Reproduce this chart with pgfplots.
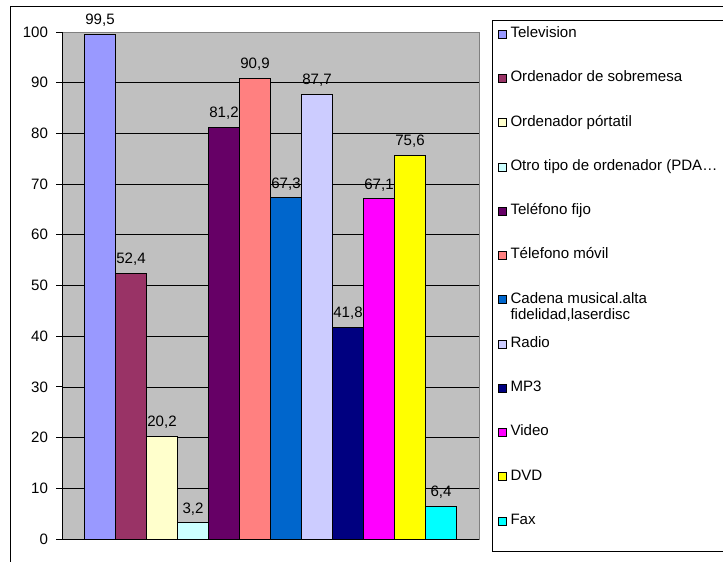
\documentclass[border=0pt]{standalone}
\usepackage{pgfplots}
\pgfplotsset{compat=1.18}
\usepackage{fontspec}
\setmainfont{Liberation Sans}

\definecolor{cTV}{HTML}{9999FF}
\definecolor{cSob}{HTML}{993366}
\definecolor{cPort}{HTML}{FFFFCC}
\definecolor{cOtro}{HTML}{CCFFFF}
\definecolor{cFijo}{HTML}{660066}
\definecolor{cMovil}{HTML}{FF8080}
\definecolor{cCad}{HTML}{0066CC}
\definecolor{cRadio}{HTML}{CCCCFF}
\definecolor{cMP}{HTML}{000080}
\definecolor{cVideo}{HTML}{FF00FF}
\definecolor{cDVD}{HTML}{FFFF00}
\definecolor{cFax}{HTML}{00FFFF}
\definecolor{plotbg}{HTML}{C0C0C0}

\newcommand\chartfont{\fontsize{11.3}{13}\selectfont}

\begin{document}
\begin{tikzpicture}
\useasboundingbox (0pt,0pt) rectangle (542.25pt,-420.75pt);
% outer chart frame
\draw[black, line width=0.75pt] (7.5pt,-600pt) -- (7.5pt,-4.5pt) -- (700pt,-4.5pt);
\begin{axis}[
  at={(46.5pt,-404.25pt)}, anchor=south west,
  scale only axis, width=312.75pt, height=380.25pt,
  font=\chartfont,
  /pgf/number format/assume math mode=true,
  ybar=0pt, bar width=23.25pt,
  xmin=-1, xmax=1, xtick=\empty,
  ymin=0, ymax=100,
  ytick={0,10,...,90},
  extra y ticks={100}, extra y tick style={grid=none},
  ymajorgrids, grid style={black, line width=0.6pt},
  axis lines=left, axis line style={-, black, line width=0.75pt},
  tick align=outside, major tick length=4.5pt,
  tick style={black, line width=0.75pt},
  yticklabel style={xshift=-2.5pt},
  axis background/.style={fill=plotbg, draw=gray, line width=0.75pt},
  every axis plot/.append style={draw=black, line width=0.6pt},
  nodes near coords,
  every node near coord/.append style={/pgf/number format/fixed, /pgf/number format/fixed zerofill,
    /pgf/number format/precision=1, /pgf/number format/use comma,
    /tikz/anchor=south, /tikz/inner sep=0pt, /tikz/text depth=0pt, /tikz/yshift=7pt,
    /tikz/black, /tikz/font=\chartfont},
  legend cell align=left,
  legend image code/.code={\draw[#1, draw=black, line width=0.5pt] (0pt,-3pt) rectangle (6pt,3pt);},
  legend style={at={(1.0312,1.0237)}, anchor=north west, draw=black, line width=0.75pt,
    fill=white, inner xsep=4pt, inner ysep=4pt, row sep=20.7pt,
    font=\chartfont,
    nodes={text height=7.3pt, text depth=2.2pt, inner sep=1.5pt, inner xsep=3pt}},
]
\addplot[fill=cTV] coordinates {(0,99.5)};
\addlegendentry{Television}
\addplot[fill=cSob] coordinates {(0,52.4)};
\addlegendentry{Ordenador de sobremesa}
\addplot[fill=cPort] coordinates {(0,20.2)};
\addlegendentry{Ordenador pórtatil}
\addplot[fill=cOtro] coordinates {(0,3.2)};
\addlegendentry{Otro tipo de ordenador (PDA…\hspace{20pt}}
\addplot[fill=cFijo] coordinates {(0,81.2)};
\addlegendentry{Teléfono fijo}
\addplot[fill=cMovil] coordinates {(0,90.9)};
\addlegendentry{Télefono móvil}
\addplot[fill=cCad] coordinates {(0,67.3)};
\addlegendentry{\smash{\begin{tabular}[t]{@{}l@{}}Cadena musical.alta\\[-0.5pt]fidelidad,laserdisc\end{tabular}}}
\addplot[fill=cRadio] coordinates {(0,87.7)};
\addlegendentry{Radio}
\addplot[fill=cMP] coordinates {(0,41.8)};
\addlegendentry{MP3}
\addplot[fill=cVideo] coordinates {(0,67.1)};
\addlegendentry{Video}
\addplot[fill=cDVD] coordinates {(0,75.6)};
\addlegendentry{DVD}
\addplot[fill=cFax] coordinates {(0,6.4)};
% the last entry carries extra depth so the legend box reaches further down
\addlegendentry[anchor=base west, text height=4.75pt, text depth=17.5pt]{\raisebox{-2.55pt}{Fax}}
\end{axis}
\end{tikzpicture}
\end{document}
